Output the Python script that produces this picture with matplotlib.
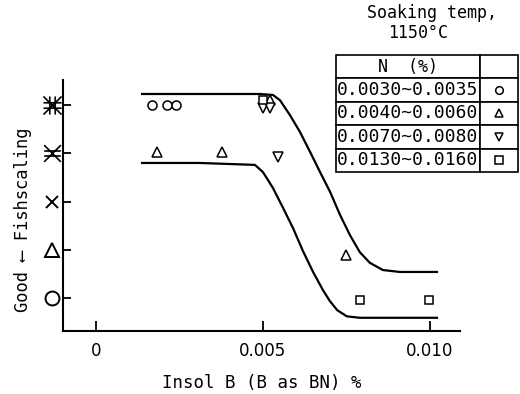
import matplotlib
matplotlib.use('Agg')
import matplotlib.pyplot as plt
from matplotlib.path import Path

plt.rcParams['font.family'] = 'DejaVu Sans Mono'

# legend: N (%) ranges and their symbols
groups = ['0.0030~0.0035', '0.0040~0.0060', '0.0070~0.0080', '0.0130~0.0160']
group_markers = ['o', '^', 'v', 's']

# measured points: insol B (%) vs fishscaling grade (0 = good)
circ_x = [0.00168, 0.00213, 0.0024]
circ_y = [4.0, 4.0, 4.0]
up_x = [0.00183, 0.00377, 0.00521, 0.0075]
up_y = [3.03, 3.03, 4.1, 0.9]
down_x = [0.0050, 0.00521, 0.00545]
down_y = [3.94, 3.94, 2.92]
sq_x = [0.0050, 0.0079, 0.00997]
sq_y = [4.1, -0.04, -0.04]

# hand-drawn band curves
upper_x = [0.00138, 0.0031, 0.00491, 0.0053, 0.00551, 0.00581, 0.00611, 0.00641,
           0.00671, 0.00701, 0.00731, 0.0076, 0.0079, 0.0082, 0.00859, 0.0091, 0.01021]
upper_y = [4.23, 4.23, 4.23, 4.21, 4.10, 3.79, 3.44, 3.03,
           2.61, 2.20, 1.72, 1.31, 0.95, 0.73, 0.58, 0.54, 0.54]
lower_x = [0.00138, 0.0031, 0.00476, 0.0050, 0.0053, 0.0056, 0.0059, 0.0062,
           0.0065, 0.0068, 0.0070, 0.00722, 0.00751, 0.0079, 0.01021]
lower_y = [2.80, 2.80, 2.76, 2.61, 2.28, 1.87, 1.45, 0.97,
           0.54, 0.16, -0.06, -0.25, -0.38, -0.41, -0.41]

xticks = [0, 0.005, 0.010]
xtick_labels = ['0', '0.005', '0.010']
grades = [0, 1, 2, 3, 4]

fig = plt.figure(figsize=(5.2, 3.94), dpi=100)
ax = fig.add_axes([63/520, 1-331/394, 397/520, 251/394])

ax.plot(upper_x, upper_y, color='black', lw=1.6, solid_joinstyle='round')
ax.plot(lower_x, lower_y, color='black', lw=1.6, solid_joinstyle='round')

kw = dict(ls='none', mfc='white', mec='black', mew=1.1, ms=6.5)
ax.plot(circ_x, circ_y, marker='o', **kw)
ax.plot(up_x, up_y, marker='^', **kw)
ax.plot(down_x, down_y, marker='v', **kw)
ax.plot(sq_x, sq_y, marker='s', **dict(kw, ms=5.5))

ax.set_xlim(-0.000988, 0.0109)
ax.set_ylim(-0.684, 4.52)
ax.spines['top'].set_visible(False)
ax.spines['right'].set_visible(False)
for s in ['left', 'bottom']:
    ax.spines[s].set_linewidth(1.5)
ax.set_xticks(xticks)
ax.set_xticklabels(xtick_labels, fontfamily='DejaVu Sans', fontsize=12)
ax.set_yticks(grades)
ax.set_yticklabels([])
ax.tick_params(axis='x', direction='in', length=7, width=1.3, pad=8)
ax.tick_params(axis='y', direction='in', length=6, width=1.3)
ax.set_xlabel('Insol B (B as BN) %', fontsize=12.5, labelpad=10)

# grade symbols on the y axis
M, L = Path.MOVETO, Path.LINETO
star3 = Path([(-1, -1), (1, 1), (-1, 1), (1, -1), (-1, 0.3), (1, 0.3), (-1, -0.3), (1, -0.3)],
             [M, L] * 4)
star4 = Path([(-1, -1), (1, 1), (-1, 1), (1, -1), (-1, 0.3), (1, 0.3), (-1, -0.3), (1, -0.3),
              (0.3, -1), (0.3, 1), (-0.3, -1), (-0.3, 1)], [M, L] * 6)
grade_markers = ['o', '^', 'x', star3, star4]
grade_sizes = [10, 10, 9, 12, 13]
tr = ax.get_yaxis_transform()
for g, m, sz in zip(grades, grade_markers, grade_sizes):
    ax.plot([-0.028], [g], marker=m, ms=sz, mfc='none', mec='black',
            mew=1.4 if g < 3 else 1.2, transform=tr, clip_on=False, ls='none')

fig.text(23/520, 1-220/394, 'Good \u27f5 Fishscaling', rotation=90,
         ha='center', va='center', fontsize=12.3,
         fontfamily=['DejaVu Sans Mono', 'DejaVu Sans'])

# legend table
fig.text(432/520, 1-13/394, 'Soaking temp,', ha='center', va='center', fontsize=12)
fig.text(418/520, 1-33/394, '1150\u00b0C', ha='center', va='center', fontsize=12)

lax = fig.add_axes([336/520, 1-172/394, 182/520, 117/394])
lax.set_xlim(0, 1)
lax.set_ylim(0, 1)
lax.axis('off')
cells = [['N  (%)', '']] + [[g, ''] for g in groups]
tab = lax.table(cellText=cells, colWidths=[0.79, 0.21], bbox=[0, 0, 1, 1],
                cellLoc='center')
tab.auto_set_font_size(False)
for (r, c), cell in tab.get_celld().items():
    cell.set_linewidth(1.2)
    cell.get_text().set_fontsize(13 if r > 0 else 12)
    cell.PAD = 0.01
nrow = len(cells)
for i, m in enumerate(group_markers):
    lax.plot(0.895, 1 - (i + 1.5) / nrow, marker=m, ms=5.5, mfc='white', mec='black',
             mew=1.1, ls='none')

fig.savefig('out.png', dpi=100)
